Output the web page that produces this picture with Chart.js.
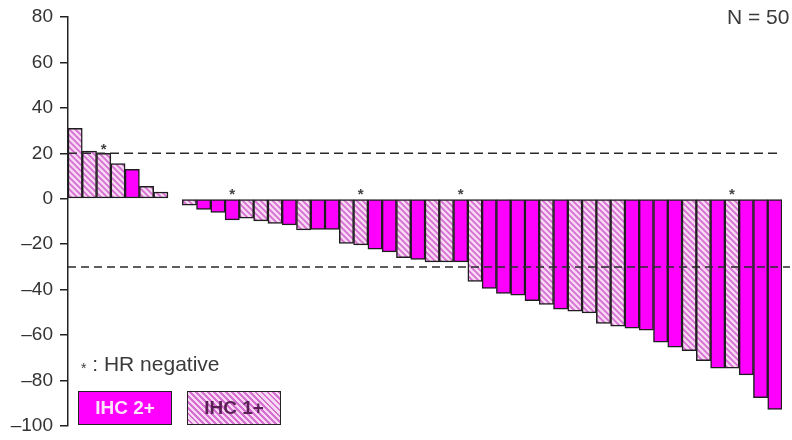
<!DOCTYPE html>
<html>
<head>
<meta charset="utf-8">
<script src="https://cdn.jsdelivr.net/npm/chart.js@4/dist/chart.umd.min.js"></script>
<style>
  body { margin: 0; background: #fff; }
  #wrap { position: relative; width: 792px; height: 440px; font-family: Arial, "Liberation Sans", sans-serif; }
  #chart { position: absolute; left: 0; top: 0; }
  .note { position: absolute; color: #3a3a3a; font-size: 21px; line-height: 24px; }
  .box { position: absolute; width: 94px; height: 34px; border: 1.5px solid #222; box-sizing: border-box;
         font-size: 19px; font-weight: bold; text-align: center; line-height: 31px; }
  .ihc2 { left: 78px; top: 391px; background: #ff00ff; color: #fde4fb; }
  .ihc1 { left: 187px; top: 391px; color: #5a1f55;
          background: repeating-linear-gradient(45deg, #f7d9f4 0 2.2px, #d66ed2 2.2px 4.2px); }
</style>
</head>
<body>
<div id="wrap">
  <canvas id="chart" width="792" height="440"></canvas>
  <div class="note" style="left:727px; top:5px;">N = 50</div>
  <div class="note" style="left:81px; top:352px;"><span style="font-size:14px; position:relative; top:2px;">*</span> : HR negative</div>
  <div class="box ihc2">IHC 2+</div>
  <div class="box ihc1">IHC 1+</div>
</div>
<script>
// best % change from baseline, one bar per patient, sorted
var changes = [31, 21, 20, 15.5, 13, 5.5, 3, 0, -2.8, -4.7,
    -6, -9.3, -8.5, -9.7, -10.8, -11.5, -13.7, -13.5, -13.5, -19.6,
    -20.3, -22.2, -23.4, -25.9, -26.7, -27.8, -27.8, -27.8, -36.4, -39.5,
    -41.7, -42.4, -44.8, -46.5, -48.6, -49.5, -50.2, -54.8, -56.1, -56.9,
    -57.8, -63.1, -65.3, -66.9, -71.3, -74.6, -74.6, -77.5, -87.5, -92.7];

// HER2 IHC score of each patient
var ihcScore = ['1+', '1+', '1+', '1+', '2+', '1+', '1+', '1+', '1+', '2+',
    '2+', '2+', '1+', '1+', '1+', '2+', '1+', '2+', '2+', '1+',
    '1+', '2+', '2+', '1+', '2+', '1+', '1+', '2+', '1+', '2+',
    '2+', '2+', '2+', '1+', '2+', '1+', '1+', '1+', '1+', '2+',
    '2+', '2+', '2+', '1+', '1+', '2+', '1+', '2+', '2+', '2+'];

// patients that are HR negative (bar index)
var hrNegative = [2, 11, 20, 27, 46];

var yTicks = [80, 60, 40, 20, 0, -20, -40, -60, -80, -100];
var refLines = [20, -30];

var patients = changes.map(function(v, i) { return 'Pt ' + (i + 1); });

// diagonal hatch for the IHC 1+ bars
function makeHatch() {
    var c = document.createElement('canvas');
    c.width = 6; c.height = 6;
    var g = c.getContext('2d');
    g.fillStyle = '#f7d9f4';
    g.fillRect(0, 0, 6, 6);
    g.strokeStyle = '#d66ed2';
    g.lineWidth = 1.8;
    g.beginPath();
    g.moveTo(-1, -1); g.lineTo(7, 7);
    g.moveTo(-1, 5); g.lineTo(1, 7);
    g.moveTo(5, -1); g.lineTo(7, 1);
    g.stroke();
    return g.createPattern(c, 'repeat');
}

var ctx = document.getElementById('chart').getContext('2d');
var hatch = makeHatch();

var extras = {
    id: 'extras',
    afterDatasetsDraw: function(chart) {
        var c = chart.ctx;
        var x = chart.scales.x, y = chart.scales.y;
        var area = chart.chartArea;
        c.save();
        c.strokeStyle = '#2a2a2a';
        c.lineWidth = 1.5;
        // +20% line
        c.setLineDash([9, 5]);
        c.beginPath();
        c.moveTo(area.left, y.getPixelForValue(refLines[0]));
        c.lineTo(area.right, y.getPixelForValue(refLines[0]));
        c.stroke();
        // -30% line
        c.setLineDash([8, 5]);
        c.beginPath();
        c.moveTo(area.left, y.getPixelForValue(refLines[1]));
        c.lineTo(area.right + 8, y.getPixelForValue(refLines[1]));
        c.stroke();
        c.setLineDash([]);
        // HR negative stars
        c.fillStyle = '#444';
        c.font = 'bold 15px Arial';
        c.textAlign = 'center';
        c.textBaseline = 'bottom';
        hrNegative.forEach(function(i) {
            var top = y.getPixelForValue(Math.max(changes[i], 0));
            c.fillText('*', x.getPixelForValue(i), top + 4);
        });
        c.restore();
    }
};

new Chart(ctx, {
    type: 'bar',
    data: {
        labels: patients,
        datasets: [{
            data: changes,
            backgroundColor: changes.map(function(v, i) {
                if (v === 0) return 'rgba(0,0,0,0)';
                return ihcScore[i] === '2+' ? '#ff00ff' : hatch;
            }),
            borderColor: '#1e1e1e',
            borderWidth: changes.map(function(v) { return v === 0 ? 0 : 1.5; }),
            borderSkipped: false,
            categoryPercentage: 1,
            barPercentage: 1
        }]
    },
    options: {
        responsive: false,
        animation: false,
        layout: { padding: { top: 17, bottom: 14, left: 0, right: 10 } },
        plugins: { legend: { display: false }, tooltip: { enabled: false } },
        scales: {
            x: { display: false },
            y: {
                min: -100,
                max: 80,
                afterBuildTicks: function(s) {
                    s.ticks = yTicks.map(function(v) { return { value: v }; });
                },
                afterFit: function(s) {
                    s.width = 68;
                    s.paddingTop = 0;
                    s.paddingBottom = 0;
                },
                ticks: {
                    color: '#333',
                    padding: 7,
                    font: { size: 19, family: 'Arial', lineHeight: 1 },
                    callback: function(v) { return String(v).replace('-', '\u2013'); }
                },
                grid: { drawOnChartArea: false, color: '#222', tickLength: 8, lineWidth: 1.5 },
                border: { color: '#222', width: 1.5 }
            }
        }
    },
    plugins: [extras]
});
</script>
</body>
</html>
